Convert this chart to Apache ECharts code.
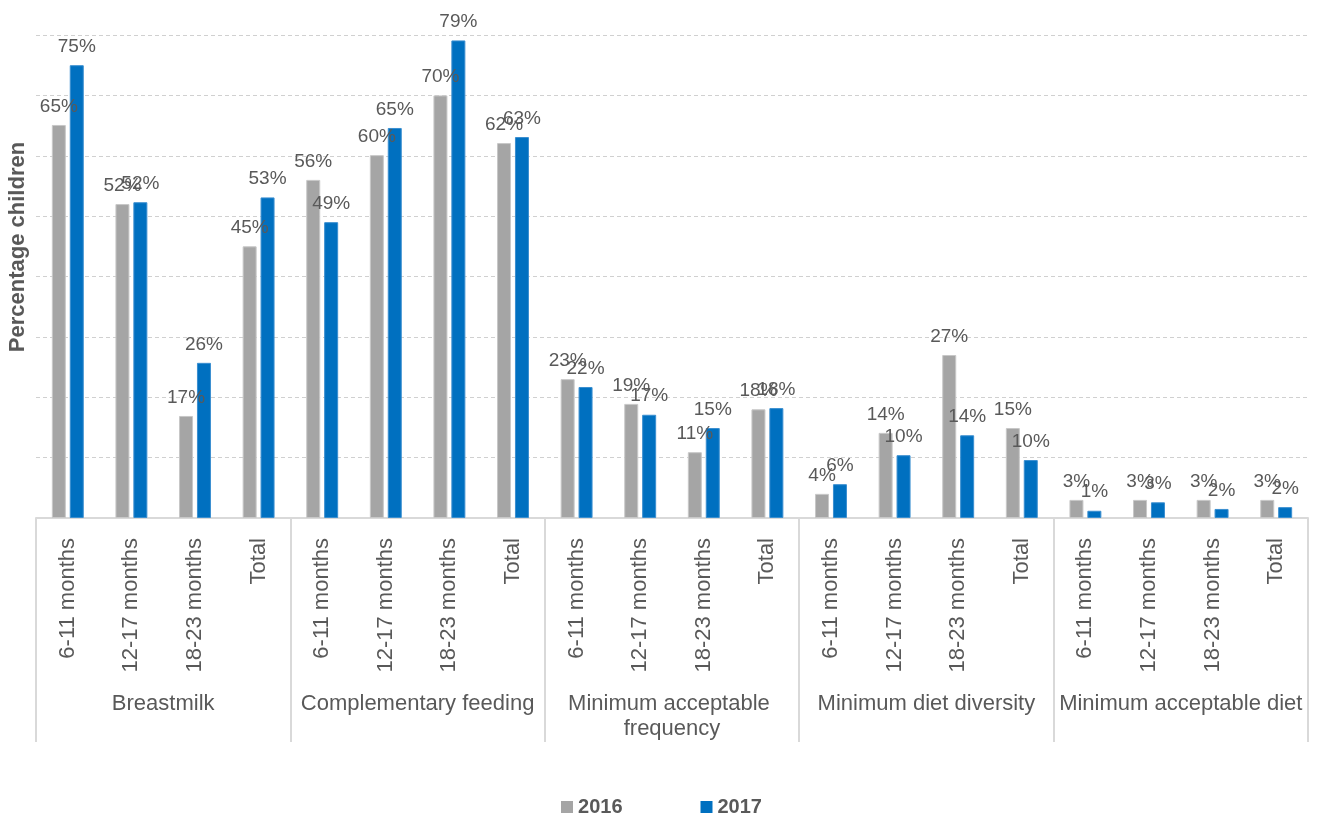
<!DOCTYPE html>
<html>
<head>
<meta charset="utf-8">
<script src="https://cdn.jsdelivr.net/npm/echarts@6/dist/echarts.min.js"></script>
<style>html,body{margin:0;padding:0;background:#fff}#c{width:1323px;height:813px}</style>
</head>
<body>
<div id="c"></div>
<script>
const groups = ["Breastmilk", "Complementary feeding", "Minimum acceptable frequency", "Minimum diet diversity", "Minimum acceptable diet"];
const ageBands = ["6-11 months", "12-17 months", "18-23 months", "Total"];
const seriesNames = ["2016", "2017"];
// values per category, in group order (4 age bands per group)
const values2016 = [65.1, 52.0, 16.9, 45.0, 56.0, 60.1, 70.0, 62.1, 23.0, 18.9, 10.9, 18.0, 4.0, 14.1, 27.0, 14.9, 3.0, 3.0, 3.0, 3.0];
const values2017 = [75.0, 52.3, 25.7, 53.1, 49.0, 64.6, 79.1, 63.1, 21.7, 17.1, 14.9, 18.2, 5.6, 10.4, 13.7, 9.6, 1.2, 2.6, 1.5, 1.8];
const yMax = 80, yInterval = 10;

const categories = [];
groups.forEach(() => ageBands.forEach(a => categories.push(a)));

const FONT = "'Liberation Sans', Arial, Helvetica, sans-serif";
const TXT = '#595959';
const chart = echarts.init(document.getElementById('c'), null, {renderer: 'canvas'});
const labelCfg = {
  show: true, position: 'top', distance: 9, color: TXT, fontSize: 19, fontFamily: FONT,
  formatter: p => Math.round(p.value) + '%'
};
chart.setOption({
  animation: false,
  textStyle: {fontFamily: FONT},
  grid: {left: 36, right: 15, top: 35, bottom: 295, containLabel: false},
  legend: {
    top: 792, left: 'center', itemWidth: 12, itemHeight: 12, itemGap: 78,
    icon: 'rect',
    itemStyle: {borderWidth: 0},
    textStyle: {fontSize: 20, fontWeight: 'bold', color: TXT, fontFamily: FONT},
    data: seriesNames
  },
  xAxis: [
    {
      type: 'category', data: categories, position: 'bottom',
      axisLine: {show: true, lineStyle: {color: '#D9D9D9', width: 2}},
      axisTick: {show: false},
      axisLabel: {rotate: 90, interval: 0, margin: 20, fontSize: 22, color: TXT, fontFamily: FONT}
    },
    {
      type: 'category', data: groups, position: 'bottom', boundaryGap: true,
      axisLine: {show: false},
      axisTick: {show: true, length: 224, interval: 0, lineStyle: {color: '#D9D9D9', width: 2}},
      axisLabel: {interval: 0, margin: 173, fontSize: 22, lineHeight: 25, color: TXT, fontFamily: FONT,
        width: 254, overflow: 'break', align: 'center'}
    }
  ],
  yAxis: {
    type: 'value', min: 0, max: yMax, interval: yInterval,
    axisLabel: {show: false}, axisLine: {show: false}, axisTick: {show: false},
    splitLine: {show: true, lineStyle: {color: '#D0D0D0', type: [4, 3], width: 1}}
  },
  graphic: [{
    type: 'text', x: 18, y: 247, rotation: Math.PI / 2,
    style: {text: 'Percentage children', font: "bold 22px " + FONT, fill: TXT, align: 'center', verticalAlign: 'middle'}
  }],
  series: [
    {name: seriesNames[0], type: 'bar', xAxisIndex: 0, data: values2016, barWidth: 14, barGap: '28%',
      itemStyle: {color: '#A5A5A5', borderColor: '#C8C8C8', borderWidth: 1}, label: labelCfg},
    {name: seriesNames[1], type: 'bar', xAxisIndex: 0, data: values2017, barWidth: 14, barGap: '28%',
      itemStyle: {color: '#0070C0', borderColor: '#3A8FD0', borderWidth: 1}, label: labelCfg}
  ]
});
</script>
</body>
</html>
